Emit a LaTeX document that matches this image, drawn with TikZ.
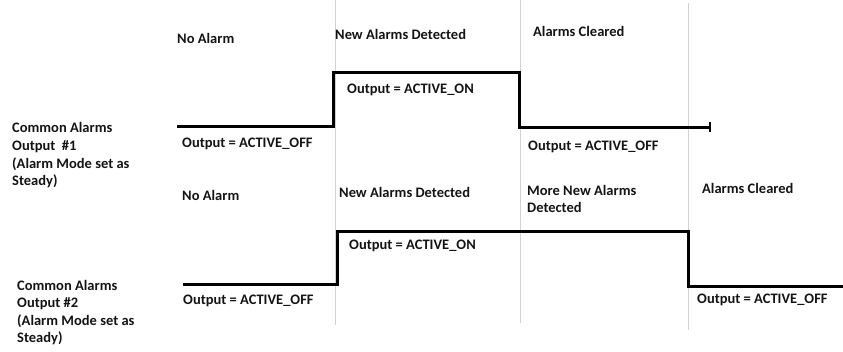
\documentclass[tikz,border=0pt]{standalone}
\usepackage{fontspec}
\setmainfont{Carlito}
\begin{document}
\begin{tikzpicture}[x=1pt,y=-1pt,
  lbl/.style={anchor=base west,inner sep=0pt,font=\fontsize{14.5}{17}\selectfont\bfseries,text=black!92},
  grid/.style={draw=black!18,line width=0.8pt},
  wave/.style={draw=black,line width=3pt,line join=miter,line cap=butt}]
\useasboundingbox (0,0) rectangle (843,351);
% grey separators
\coordinate (g1t) at (335,0);   \coordinate (g1b) at (335,325);
\coordinate (g2t) at (520,0);   \coordinate (g2b) at (520,323);
\coordinate (g3t) at (688,3);   \coordinate (g3b) at (688,330);
\draw[grid] (g1t) -- (g1b);
\draw[grid] (g2t) -- (g2b);
\draw[grid] (g3t) -- (g3b);
% waveform 1
\coordinate (a0) at (177,126);
\coordinate (a1) at (333,126);
\coordinate (a2) at (333,72);
\coordinate (a3) at (519,72);
\coordinate (a4) at (519,127);
\coordinate (a5) at (710,127);
\coordinate (a5t) at (710,122);
\coordinate (a5b) at (710,132);
\draw[wave] (a0) -- (a1) -- (a2) -- (a3) -- (a4) -- (a5);
\draw[line width=1.5pt] (a5t) -- (a5b);
% waveform 2
\coordinate (b0) at (183,284);
\coordinate (b1) at (337,284);
\coordinate (b2) at (337,231);
\coordinate (b3) at (688,231);
\coordinate (b4) at (688,286);
\coordinate (b5) at (843,286);
\draw[wave] (b0) -- (b1) -- (b2) -- (b3) -- (b4) -- (b5);
% row 1 texts
\node[lbl] (t1) at (177,43) {No Alarm};
\node[lbl] (t2) at (335,39) {New Alarms Detected};
\node[lbl] (t3) at (533,36) {Alarms Cleared};
\node[lbl] (t4) at (347,93) {Output = ACTIVE\_ON};
\node[lbl] (t5) at (182,147) {Output = ACTIVE\_OFF};
\node[lbl] (t6) at (528,150) {Output = ACTIVE\_OFF};
\node[lbl] (l1a) at (12,132) {Common Alarms};
\node[lbl] (l1b) at (12,150) {Output~~\#1};
\node[lbl] (l1c) at (12,168) {(Alarm Mode set as};
\node[lbl] (l1d) at (12,185) {Steady)};
% row 2 texts
\node[lbl] (s1) at (182,200) {No Alarm};
\node[lbl] (s2) at (339,197) {New Alarms Detected};
\node[lbl] (s3a) at (527,195) {More New Alarms};
\node[lbl] (s3b) at (527,212) {Detected};
\node[lbl] (s4) at (702,193) {Alarms Cleared};
\node[lbl] (s5) at (349,249) {Output = ACTIVE\_ON};
\node[lbl] (s6) at (183,304) {Output = ACTIVE\_OFF};
\node[lbl] (s7) at (697,303) {Output = ACTIVE\_OFF};
\node[lbl] (l2a) at (17,290) {Common Alarms};
\node[lbl] (l2b) at (17,307) {Output \#2};
\node[lbl] (l2c) at (17,325) {(Alarm Mode set as};
\node[lbl] (l2d) at (17,342) {Steady)};
\end{tikzpicture}
\end{document}
